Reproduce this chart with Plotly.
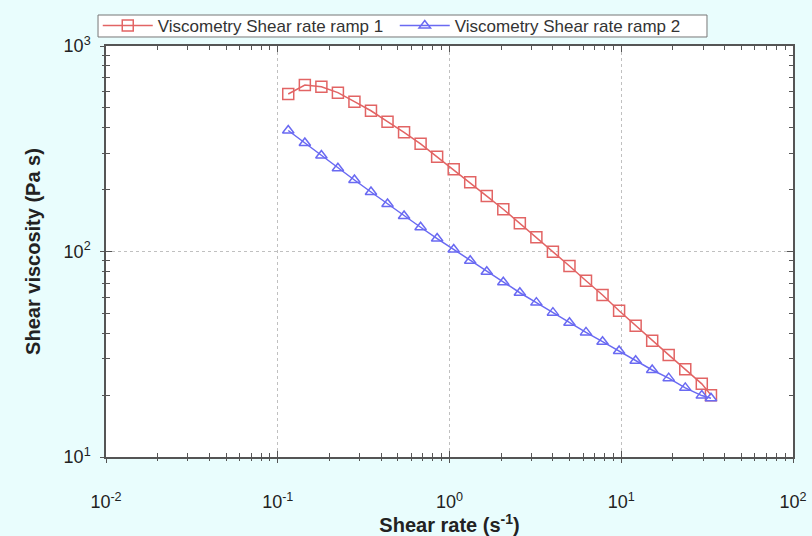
import plotly.graph_objects as go

# Data
shear_rate = [0.1151, 0.1438, 0.1795, 0.2240, 0.2796, 0.3490, 0.4357, 0.5438, 0.6788, 0.8473,
              1.058, 1.320, 1.648, 2.057, 2.568, 3.205, 4.001, 4.995, 6.234, 7.783,
              9.714, 12.13, 15.14, 18.89, 23.59, 29.44, 33.3]
ramp1_visc = [584, 646, 634, 593, 536, 484, 428, 380, 334, 289,
              251, 217, 186, 160.5, 137.1, 117.3, 99.8, 85.0, 72.1, 61.4,
              51.5, 43.5, 36.8, 31.4, 26.7, 22.7, 20.0]
ramp2_visc = [388, 337, 293, 254, 222.8, 194.8, 170.3, 148.9, 131.2, 115.6,
              102.3, 90.2, 79.7, 70.8, 63.0, 56.4, 50.4, 45.0, 40.4, 36.4,
              32.8, 29.4, 26.5, 24.2, 21.7, 19.9, 19.3]
series_names = ["Viscometry Shear rate ramp 1", "Viscometry Shear rate ramp 2"]
x_tickvals = [0.01, 0.1, 1, 10, 100]
x_ticktext = ["10<sup>-2</sup>", "10<sup>-1</sup>", "10<sup>0</sup>", "10<sup>1</sup>", "10<sup>2</sup>"]
y_tickvals = [10, 100, 1000]
y_ticktext = ["10<sup>1</sup>", "10<sup>2</sup>", "10<sup>3</sup>"]

FONT = "Liberation Sans, Arial, sans-serif"
RED = "#E26464"
BLUE = "#6A6AF2"
AXC = "#555555"

fig = go.Figure()
fig.add_trace(go.Scatter(
    x=shear_rate, y=ramp1_visc, name=series_names[0], mode="lines+markers",
    line=dict(color=RED, width=1.5),
    marker=dict(symbol="square-open", size=11, color=RED, line=dict(width=1.5, color=RED)),
))
fig.add_trace(go.Scatter(
    x=shear_rate, y=ramp2_visc, name=series_names[1], mode="lines+markers",
    line=dict(color=BLUE, width=1.5),
    marker=dict(symbol="triangle-up-open", size=10, color=BLUE, line=dict(width=1.5, color=BLUE)),
))
# invisible trace to hold the overlay axes (outer tick halves)
fig.add_trace(go.Scatter(x=[1], y=[100], xaxis="x2", yaxis="y2", mode="markers",
                         marker=dict(opacity=0), showlegend=False, hoverinfo="skip"))

common = dict(type="log", showline=True, linecolor=AXC, linewidth=1.5, zeroline=False)

fig.update_layout(
    width=812, height=536,
    paper_bgcolor="#E9FDFD", plot_bgcolor="white",
    margin=dict(l=106, r=19, t=46, b=79, autoexpand=False),
    font=dict(family=FONT, color="#222222"),
    showlegend=True,
    legend=dict(orientation="h", x=-0.012, y=1.0487, xanchor="left", yanchor="middle",
                bgcolor="rgba(0,0,0,0)", borderwidth=0,
                font=dict(family=FONT, size=17, color="#333333"),
                itemwidth=50,
                entrywidth=232, entrywidthmode="pixels", tracegroupgap=0),
    shapes=[dict(type="rect", xref="paper", yref="paper",
                 x0=-0.0116, x1=0.8748, y0=1.0219, y1=1.0754,
                 line=dict(color="#777777", width=1), fillcolor="white", layer="above")],
    xaxis=dict(**common, range=[-2, 2], mirror="ticks",
               ticks="inside", ticklen=6, tickcolor=AXC, tickwidth=1,
               tickvals=x_tickvals, ticktext=x_ticktext,
               tickfont=dict(size=18, family=FONT, color="#222222"),
               ticklabelstandoff=28,
               showgrid=True, gridcolor="#C0C0C0", griddash="dot", gridwidth=1,
               minor=dict(ticks="inside", ticklen=4, tickcolor=AXC, dtick="D1", showgrid=False),
               title=dict(text="<b>Shear rate (s<sup>-1</sup>)</b>",
                          font=dict(size=20, family=FONT, color="#222222"), standoff=6)),
    yaxis=dict(**common, range=[1, 3], mirror="ticks",
               ticks="inside", ticklen=6, tickcolor=AXC, tickwidth=1,
               tickvals=y_tickvals, ticktext=y_ticktext,
               tickfont=dict(size=18, family=FONT, color="#222222"),
               ticklabelstandoff=10,
               showgrid=True, gridcolor="#C0C0C0", griddash="dot", gridwidth=1,
               minor=dict(ticks="inside", ticklen=4, tickcolor=AXC, dtick="D1", showgrid=False),
               title=dict(text="<b>Shear viscosity (Pa s)</b>",
                          font=dict(size=20, family=FONT, color="#222222"), standoff=18)),
    xaxis2=dict(type="log", range=[-2, 2], overlaying="x", anchor="y2", side="bottom",
                showline=False, showgrid=False, zeroline=False, showticklabels=False,
                ticks="outside", ticklen=5, tickcolor=AXC, tickwidth=1, tickvals=x_tickvals,
                minor=dict(ticks="outside", ticklen=3, tickcolor=AXC, dtick="D1", showgrid=False)),
    yaxis2=dict(type="log", range=[1, 3], overlaying="y", anchor="x2", side="left",
                showline=False, showgrid=False, zeroline=False, showticklabels=False,
                ticks="outside", ticklen=5, tickcolor=AXC, tickwidth=1, tickvals=y_tickvals,
                minor=dict(ticks="outside", ticklen=3, tickcolor=AXC, dtick="D1", showgrid=False)),
)

fig.write_html("out.html", config={"displayModeBar": False},
               post_script="document.body.style.margin='0';")
